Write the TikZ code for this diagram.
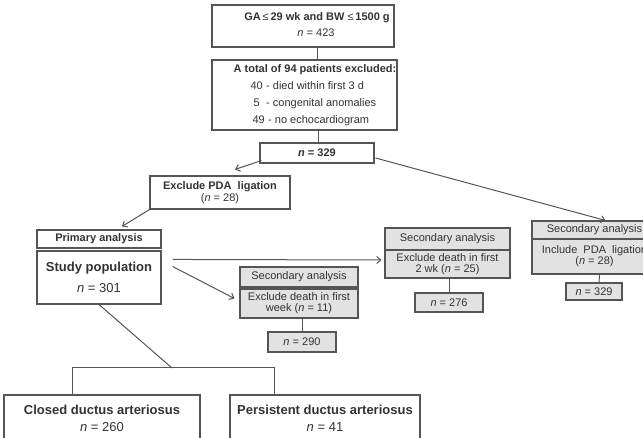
\documentclass[tikz,border=0pt]{standalone}
\usepackage{fontspec}
\setmainfont{Liberation Sans}
\usetikzlibrary{arrows.meta,calc}
\definecolor{lnc}{HTML}{555555}
\definecolor{txc}{HTML}{333333}
\definecolor{gfc}{HTML}{E2E2E2}
\begin{document}
\begin{tikzpicture}[x=1pt,y=-1pt,
  box/.style={draw=lnc, line width=1.1pt, fill=white, text=txc, inner sep=0pt, align=center, font=\fontsize{11}{12}\selectfont},
  gbox/.style={box, fill=gfc},
  arr/.style={draw=lnc, line width=1pt, -{Straight Barb[length=4pt,width=7pt]}},
  conn/.style={draw=lnc, line width=1pt},
  txt/.style={text=txc, inner sep=0pt, font=\fontsize{11}{12}\selectfont},
  big/.style={text=txc, inner sep=0pt, font=\fontsize{13}{15}\selectfont}]
\useasboundingbox (0,0) rectangle (643,438);
\clip (0,0) rectangle (643,438);

% top boxes
\node[box, minimum width=182pt, minimum height=42pt] (top) at (303,26) {};
\node[txt, font=\bfseries\fontsize{11}{12}\selectfont] (t0) at (317,18)
  {GA\,{\mdseries ≤}\,29 wk and BW\ {\mdseries ≤}\,1500 g};
\node[txt] (t1) at (316,33) {\textit{n} = 423};
\node[box, minimum width=185pt, minimum height=70pt] (excl) at (304.5,95) {};
\node[txt, font=\bfseries\fontsize{11}{12}\selectfont] (e0) at (315,70) {A total of 94 patients excluded:};
\node[txt, anchor=mid east] (e1n) at (263,87) {40};
\node[txt, anchor=mid west] (e1t) at (266,87) {- died within first 3 d};
\node[txt, anchor=mid east] (e2n) at (260,104) {5};
\node[txt, anchor=mid west] (e2t) at (266,104) {- congenital anomalies};
\node[txt, anchor=mid east] (e3n) at (265,121) {49};
\node[txt, anchor=mid west] (e3t) at (268,121) {- no echocardiogram};
\node[box, minimum width=114pt, minimum height=20pt, font=\bfseries\fontsize{11}{12}\selectfont] (n329) at (317,153) {\textit{n} = 329};

% left branch
\node[box, minimum width=140pt, minimum height=33pt] (pda) at (220,192.5)
  {{\bfseries Exclude PDA\ \ ligation}\\(\textit{n} = 28)};
\node[box, minimum width=124pt, minimum height=18pt, font=\bfseries\fontsize{11}{12}\selectfont] (prim) at (99,239) {Primary analysis};
\node[box, minimum width=124pt, minimum height=53pt, font=\fontsize{13}{21}\selectfont] (study) at (99,277.5)
  {{\bfseries Study population}\\\textit{n} = 301};

% secondary 1 week
\node[gbox, minimum width=118pt, minimum height=20pt] (sec1h) at (299,277) {Secondary analysis};
\node[gbox, minimum width=118pt, minimum height=29pt, font=\fontsize{11}{11}\selectfont] (sec1b) at (299,303.5)
  {Exclude death in first\\week (\textit{n} = 11)};
\node[gbox, minimum width=68pt, minimum height=20pt] (n290) at (302,342) {\textit{n} = 290};

% secondary 2 weeks
\node[gbox, minimum width=125pt, minimum height=22pt] (sec2h) at (447.5,239) {Secondary analysis};
\node[gbox, minimum width=125pt, minimum height=28pt, font=\fontsize{11}{11}\selectfont] (sec2b) at (447.5,264)
  {Exclude death in first\\2 wk (\textit{n} = 25)};
\node[gbox, minimum width=68pt, minimum height=19pt] (n276) at (449,302.5) {\textit{n} = 276};

% secondary include PDA ligation
\node[gbox, minimum width=125pt, minimum height=18pt] (sec3h) at (594.5,230) {Secondary analysis};
\node[gbox, minimum width=125pt, minimum height=35pt, font=\fontsize{11}{11}\selectfont] (sec3b) at (594.5,256.5)
  {Include\ \ PDA\ \ ligation\\(\textit{n} = 28)};
\node[gbox, minimum width=56pt, minimum height=17pt] (n329b) at (594,291.5) {\textit{n} = 329};

% bottom boxes
\node[box, minimum width=196pt, minimum height=65pt] (closed) at (102,427.5) {};
\node[big, font=\bfseries\fontsize{13}{15}\selectfont] (ct) at (102,410) {Closed ductus arteriosus};
\node[big] (cn) at (102,427) {\textit{n} = 260};
\node[box, minimum width=190pt, minimum height=65pt] (persist) at (325,427.5) {};
\node[big, font=\bfseries\fontsize{13}{15}\selectfont] (pt) at (325,410) {Persistent ductus arteriosus};
\node[big] (pn) at (325,427) {\textit{n} = 41};

\coordinate (J) at (172,368);
\coordinate (L) at (72,368);
\coordinate (R) at (274,368);

% connectors
\draw[conn] (top.south -| n329.center) -- (excl.north -| n329.center);
\draw[conn] ($(excl.south -| n329.center)+(1,0)$) -- ($(n329.north)+(1,0)$);
\draw[arr] ($(n329.south west)+(2,-3)$) -- ($(pda.north)+(15,-6)$);
\draw[arr] ($(n329.east)+(1,5)$) -- ($(sec3h.north)+(11,0)$);
\draw[arr] (pda.south west) -- ($(prim.north)+(23,-3)$);
\draw[arr] ($(study.north east)+(11,9)$) -- ($(sec2b.west)+(-3,-4)$);
\draw[arr] ($(study.north east)+(11,16)$) -- ($(sec1b.west)+(-5,-5)$);
\draw[conn] (sec1b.south -| n290.north) -- (n290.north);
\draw[conn] (sec2b.south -| n276.north) -- (n276.north);
\draw[conn] ($(sec3b.south)+(5,0)$) -- ($(n329b.north)+(5,0)$);
\draw[conn] (study.south) -- (J);
\draw[conn] (closed.north -| L) -- (L) -- (R) -- (persist.north -| R);
\end{tikzpicture}
\end{document}
